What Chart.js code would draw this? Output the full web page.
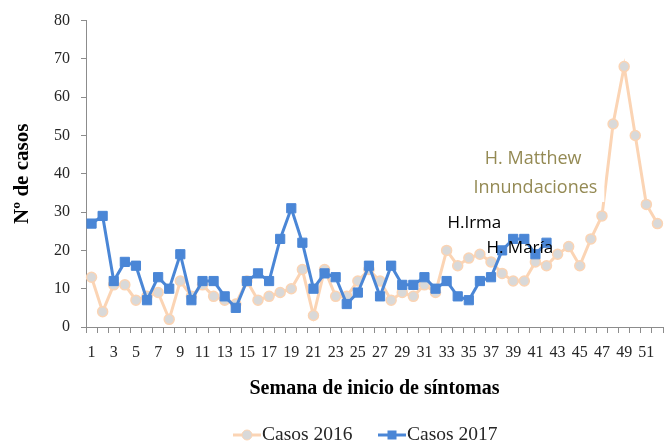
<!DOCTYPE html>
<html>
<head>
<meta charset="utf-8">
<script src="https://cdn.jsdelivr.net/npm/chart.js@4.4.1/dist/chart.umd.min.js"></script>
<style>
  html, body { margin: 0; padding: 0; background: #ffffff; }
  #wrap { position: relative; width: 671px; height: 444px; }
</style>
</head>
<body>
<div id="wrap"><canvas id="c" width="671" height="444"></canvas></div>
<script>
// ---- data ----
const weeks = [];
for (let w = 1; w <= 52; w++) weeks.push(String(w));

const casos2016 = [13, 4, 11, 11, 7, 8, 9, 2, 12, 8, 11, 8, 7, 6, 12, 7, 8, 9, 10, 15,
                   3, 15, 8, 8, 12, 15, 12, 7, 9, 8, 11, 9, 20, 16, 18, 19, 17, 14, 12, 12,
                   17, 16, 19, 21, 16, 23, 29, 53, 68, 50, 32, 27];

const casos2017 = [27, 29, 12, 17, 16, 7, 13, 10, 19, 7, 12, 12, 8, 5, 12, 14, 12, 23, 31, 22,
                   10, 14, 13, 6, 9, 16, 8, 16, 11, 11, 13, 10, 12, 8, 7, 12, 13, 20, 23, 23,
                   19, 22];

const yTicks = [0, 10, 20, 30, 40, 50, 60, 70, 80];

const seriesLabels = ['Casos 2016', 'Casos 2017'];

// annotations anchored on the scales: x = category index (0-based), y = value
const annotations = [
  { text: 'H.Irma',        xIdx: 34.5, yVal: 27.2, color: '#000000', size: 17 },
  { text: 'H. María',      xIdx: 38.6, yVal: 20.7, color: '#000000', size: 17 },
  { text: 'H. Matthew',    xIdx: 39.8, yVal: 44.0, color: '#948A54', size: 18, boxed: true },
  { text: 'Innundaciones', xIdx: 40.0, yVal: 36.3, color: '#948A54', size: 18, boxed: true }
];

const ORANGE = '#FBD4B4';
const GREY_PT = '#D9D9D9';
const BLUE = '#4A86D6';
const AXIS = '#8C8C8C';
const SERIF = '"Liberation Serif", "DejaVu Serif", serif';
const SANS = '"Open Sans", "Noto Sans", sans-serif';

const annotationPlugin = {
  id: 'annots',
  afterDatasetsDraw(chart) {
    const ctx = chart.ctx;
    const xs = chart.scales.x, ys = chart.scales.y;
    ctx.save();
    ctx.textAlign = 'center';
    ctx.textBaseline = 'middle';
    // white box behind the boxed text block
    const boxed = annotations.filter(a => a.boxed);
    if (boxed.length) {
      let l = Infinity, r = -Infinity, t = Infinity, b = -Infinity;
      boxed.forEach(a => {
        ctx.font = a.size + 'px ' + SANS;
        const x = xs.getPixelForValue(a.xIdx), y = ys.getPixelForValue(a.yVal);
        const w = ctx.measureText(a.text).width;
        l = Math.min(l, x - w / 2); r = Math.max(r, x + w / 2);
        t = Math.min(t, y - 11); b = Math.max(b, y + 13);
      });
      ctx.fillStyle = '#ffffff';
      ctx.fillRect(l - 7, t - 3, (r - l) + 14, (b - t) + 4);
    }
    annotations.forEach(a => {
      ctx.font = a.size + 'px ' + SANS;
      ctx.fillStyle = a.color;
      ctx.fillText(a.text, xs.getPixelForValue(a.xIdx), ys.getPixelForValue(a.yVal));
    });
    ctx.restore();
  }
};

const legendPlugin = {
  id: 'lineLegend',
  afterDraw(chart) {
    const ctx = chart.ctx;
    const items = [
      { ds: chart.data.datasets.find(d => d.label === seriesLabels[0]), x: 233 },
      { ds: chart.data.datasets.find(d => d.label === seriesLabels[1]), x: 378 }
    ];
    const y = 435;
    ctx.save();
    ctx.font = '19.5px ' + SERIF;
    ctx.textBaseline = 'middle';
    items.forEach(it => {
      const ds = it.ds;
      ctx.strokeStyle = ds.borderColor;
      ctx.lineWidth = 3;
      ctx.beginPath();
      ctx.moveTo(it.x, y);
      ctx.lineTo(it.x + 28, y);
      ctx.stroke();
      const cx = it.x + 14;
      ctx.fillStyle = ds.pointBackgroundColor;
      ctx.strokeStyle = ds.pointBorderColor;
      ctx.lineWidth = 1;
      if (ds.pointStyle === 'rect') {
        ctx.fillRect(cx - 4.5, y - 4.5, 9, 9);
      } else {
        ctx.beginPath();
        ctx.arc(cx, y, 5, 0, Math.PI * 2);
        ctx.fill();
        ctx.stroke();
      }
      ctx.fillStyle = '#262626';
      ctx.textAlign = 'left';
      ctx.fillText(ds.label, it.x + 29, y);
    });
    ctx.restore();
  }
};

new Chart(document.getElementById('c'), {
  type: 'line',
  data: {
    labels: weeks,
    datasets: [
      {
        label: seriesLabels[0],
        data: casos2016,
        borderColor: ORANGE,
        backgroundColor: ORANGE,
        borderWidth: 3,
        pointStyle: 'circle',
        pointRadius: 5,
        pointBackgroundColor: GREY_PT,
        pointBorderColor: ORANGE,
        pointBorderWidth: 1.5,
        tension: 0,
        order: 1
      },
      {
        label: seriesLabels[1],
        data: casos2017,
        borderColor: BLUE,
        backgroundColor: BLUE,
        borderWidth: 3,
        pointStyle: 'rect',
        pointRadius: 6.5,
        pointBackgroundColor: BLUE,
        pointBorderColor: BLUE,
        pointBorderWidth: 1,
        tension: 0,
        order: 0
      }
    ]
  },
  options: {
    responsive: false,
    animation: false,
    devicePixelRatio: 1,
    layout: { padding: { left: 0, right: 8, top: 18, bottom: 39 } },
    plugins: {
      legend: { display: false },
      tooltip: { enabled: false }
    },
    scales: {
      x: {
        type: 'category',
        offset: true,
        afterFit(s) { s.height = 78; },
        grid: {
          display: true,
          offset: true,
          drawOnChartArea: false,
          drawTicks: true,
          tickLength: 6,
          color: AXIS
        },
        border: { display: true, color: AXIS, width: 1 },
        ticks: {
          autoSkip: false,
          maxRotation: 0,
          minRotation: 0,
          padding: 10,
          color: '#262626',
          font: { family: SERIF, size: 16 },
          callback(val, idx) { return idx % 2 === 0 ? weeks[idx] : ''; }
        },
        title: {
          display: true,
          text: 'Semana de inicio de síntomas',
          color: '#000000',
          font: { family: SERIF, size: 20, weight: 'bold' },
          padding: { top: 0, bottom: 4 }
        }
      },
      y: {
        min: yTicks[0],
        max: yTicks[yTicks.length - 1],
        afterFit(s) { s.width = 86; },
        afterBuildTicks(s) { s.ticks = yTicks.map(v => ({ value: v })); },
        grid: {
          display: true,
          drawOnChartArea: false,
          drawTicks: true,
          tickLength: 5,
          color: AXIS
        },
        border: { display: true, color: AXIS, width: 1 },
        ticks: {
          padding: 11,
          color: '#262626',
          font: { family: SERIF, size: 16 }
        },
        title: {
          display: true,
          text: 'Nº de casos',
          color: '#000000',
          font: { family: SERIF, size: 21, weight: 'bold' },
          padding: { top: 10, bottom: 0 }
        }
      }
    }
  },
  plugins: [annotationPlugin, legendPlugin]
});
</script>
</body>
</html>
